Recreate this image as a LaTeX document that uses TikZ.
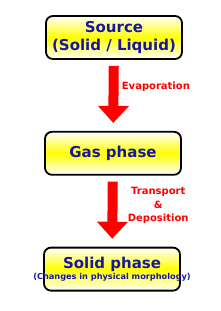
\documentclass[tikz,border=0pt]{standalone}
\usepackage{fontspec}
\setmainfont{DejaVu Sans}
\usepackage{xcolor}
\usetikzlibrary{arrows.meta,positioning}
\definecolor{boxtext}{RGB}{22,22,160}
\begin{document}
\begin{tikzpicture}[x=1pt, y=1pt, node distance=71pt,
  phase/.style={draw, line width=1.8pt, rounded corners=7pt, minimum width=136pt, minimum height=43pt, inner sep=2pt, align=center,
    top color=white, bottom color=white, middle color=yellow, text=boxtext, font=\bfseries\fontsize{15}{18}\selectfont},
  flow/.style={red, line width=10pt, -{Triangle[width=30pt, length=17pt]}, shorten <=6pt, shorten >=8pt},
  note/.style={text=red, font=\bfseries\fontsize{10}{13.5}\selectfont, align=center}]
\useasboundingbox (0,0) rectangle (220,-311);
\node[phase] (source) at (114,-37.5) {Source\\(Solid / Liquid)};
\node[phase, below=of source.south, anchor=north, xshift=-1pt] (gas) {Gas phase};
\node[phase, below=of gas.south, anchor=north, xshift=-1pt] (solid) {Solid phase\\[-7pt]{\fontsize{8.2}{9}\selectfont\makebox[0pt]{(Changes in physical morphology)}}};
\draw[flow] (source) -- node[note, pos=0.38, right, xshift=0pt] {Evaporation} (gas);
\draw[flow] (gas) -- node[note, pos=0.42, right, xshift=7pt] {Transport\\\&\\Deposition} (solid);
\end{tikzpicture}
\end{document}
